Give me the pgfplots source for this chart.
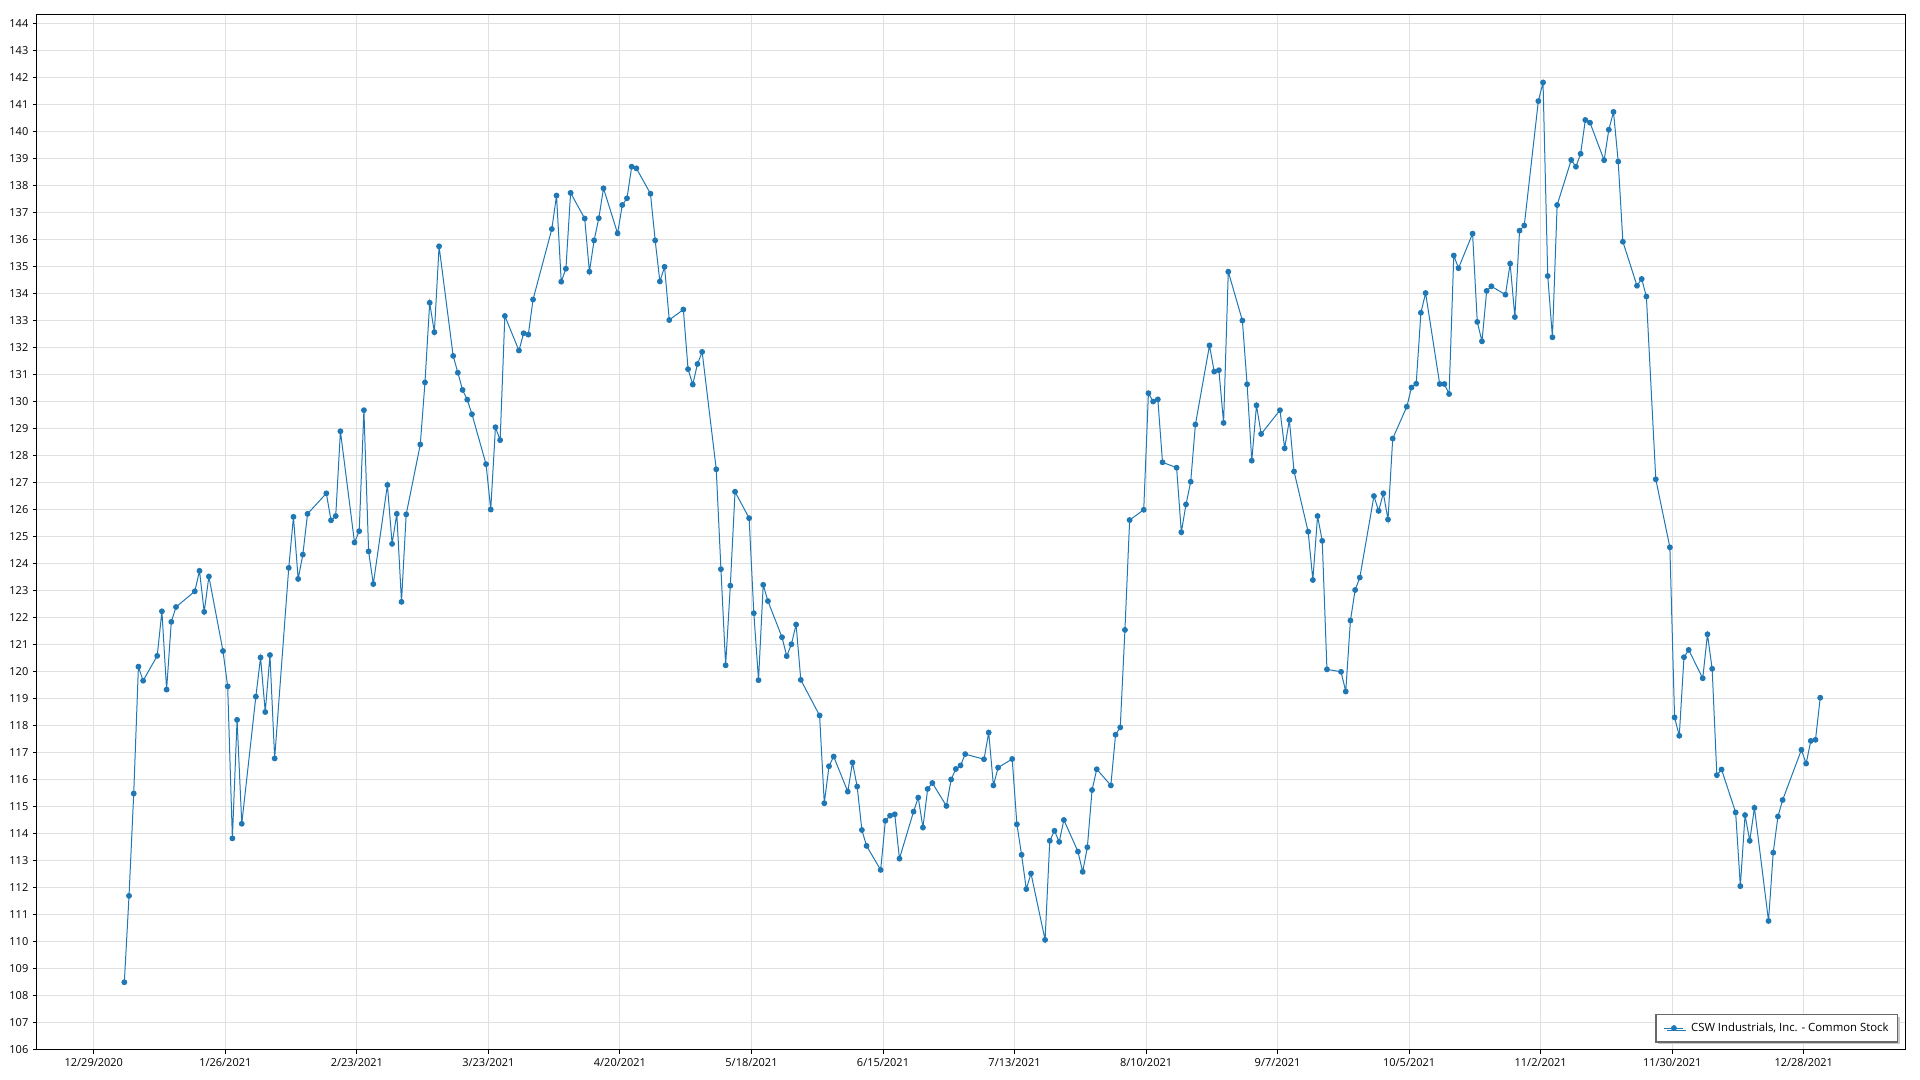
\documentclass[border=0pt]{standalone}
\usepackage{fontspec}
\setmainfont{Open Sans}
\usepackage{pgfplots}
\pgfplotsset{compat=1.18}
\usetikzlibrary{shadows}
\definecolor{series}{RGB}{31,119,180}
\definecolor{gridc}{RGB}{224,224,224}
\definecolor{legbord}{RGB}{105,105,105}
\definecolor{legshadow}{RGB}{200,200,200}
\pgfplotstableread{
d v
6 108.48
7 111.68
8 115.47
9 120.17
10 119.65
13 120.57
14 122.22
15 119.32
16 121.83
17 122.38
21 122.96
22 123.72
23 122.20
24 123.51
27 120.75
28 119.44
29 113.81
30 118.20
31 114.35
34 119.06
35 120.51
36 118.49
37 120.60
38 116.77
41 123.83
42 125.72
43 123.42
44 124.32
45 125.83
49 126.59
50 125.59
51 125.75
52 128.89
55 124.77
56 125.19
57 129.67
58 124.44
59 123.23
62 126.90
63 124.72
64 125.83
65 122.57
66 125.81
69 128.40
70 130.70
71 133.65
72 132.56
73 135.74
76 131.68
77 131.06
78 130.42
79 130.06
80 129.52
83 127.67
84 125.99
85 129.04
86 128.56
87 133.16
90 131.88
91 132.52
92 132.47
93 133.77
97 136.38
98 137.62
99 134.43
100 134.91
101 137.72
104 136.77
105 134.80
106 135.96
107 136.78
108 137.89
111 136.22
112 137.27
113 137.52
114 138.69
115 138.63
118 137.69
119 135.96
120 134.44
121 134.98
122 133.01
125 133.40
126 131.19
127 130.62
128 131.38
129 131.83
132 127.48
133 123.78
134 120.22
135 123.17
136 126.65
139 125.67
140 122.15
141 119.67
142 123.20
143 122.60
146 121.26
147 120.56
148 121.00
149 121.73
150 119.68
154 118.36
155 115.11
156 116.48
157 116.84
160 115.54
161 116.62
162 115.73
163 114.12
164 113.53
167 112.64
168 114.46
169 114.65
170 114.70
171 113.06
174 114.80
175 115.32
176 114.21
177 115.64
178 115.86
181 115.01
182 115.99
183 116.38
184 116.51
185 116.93
189 116.74
190 117.73
191 115.77
192 116.43
195 116.75
196 114.33
197 113.20
198 111.93
199 112.51
202 110.05
203 113.72
204 114.09
205 113.68
206 114.49
209 113.32
210 112.57
211 113.48
212 115.60
213 116.37
216 115.77
217 117.65
218 117.92
219 121.53
220 125.60
223 125.98
224 130.30
225 129.99
226 130.07
227 127.74
230 127.54
231 125.15
232 126.18
233 127.02
234 129.14
237 132.07
238 131.10
239 131.15
240 129.20
241 134.80
244 132.99
245 130.63
246 127.80
247 129.85
248 128.79
252 129.67
253 128.26
254 129.31
255 127.40
258 125.17
259 123.38
260 125.75
261 124.83
262 120.07
265 119.98
266 119.25
267 121.88
268 123.01
269 123.47
272 126.49
273 125.94
274 126.59
275 125.62
276 128.62
279 129.80
280 130.51
281 130.65
282 133.28
283 134.01
286 130.64
287 130.64
288 130.27
289 135.40
290 134.93
293 136.21
294 132.94
295 132.22
296 134.09
297 134.26
300 133.95
301 135.10
302 133.12
303 136.32
304 136.51
307 141.12
308 141.81
309 134.64
310 132.37
311 137.27
314 138.94
315 138.69
316 139.17
317 140.42
318 140.32
321 138.93
322 140.06
323 140.72
324 138.88
325 135.91
328 134.28
329 134.53
330 133.88
332 127.11
335 124.59
336 118.29
337 117.61
338 120.52
339 120.79
342 119.74
343 121.37
344 120.09
345 116.15
346 116.36
349 114.77
350 112.04
351 114.67
352 113.72
353 114.94
356 110.75
357 113.28
358 114.62
359 115.23
363 117.09
364 116.58
365 117.42
366 117.46
367 119.02
}\stock
\begin{document}
\begin{tikzpicture}
\useasboundingbox (-27.75pt,-22.5pt) rectangle (1412.25pt,787.5pt);
\begin{axis}[
  at={(0pt,0pt)}, anchor=south west,
  scale only axis, width=1401pt, height=776.25pt,
  xmin=-12.59, xmax=385.06, ymin=105.97, ymax=144.31,
  xtick={-0.5,27.5,55.5,83.5,111.5,139.5,167.5,195.5,223.5,251.5,279.5,307.5,335.5,363.5},
  xticklabels={12/29/2020,1/26/2021,2/23/2021,3/23/2021,4/20/2021,5/18/2021,6/15/2021,7/13/2021,8/10/2021,9/7/2021,10/5/2021,11/2/2021,11/30/2021,12/28/2021},
  ytick={106,107,...,144},
  /pgf/number format/assume math mode=true,
  /pgf/number format/1000 sep={},
  grid=major,
  major grid style={draw=gridc, line width=0.75pt},
  axis line style={draw=black, line width=0.75pt},
  tick align=outside, tick pos=left, major tick length=3pt,
  tick style={draw=black, line width=0.75pt},
  every tick label/.append style={font=\fontsize{8.25pt}{10pt}\selectfont, text=black},
  legend style={at={(1,0)}, anchor=south east, xshift=-5.5pt, yshift=5.5pt,
    draw=legbord, line width=0.9pt, fill=white,
    drop shadow={shadow xshift=1.8pt, shadow yshift=-1.8pt, fill=legshadow, opacity=1},
    font=\fontsize{8.5pt}{10pt}\selectfont, inner xsep=4.5pt, inner ysep=4.5pt},
  legend cell align=left,
  legend image code/.code={\draw[mark repeat=2,mark phase=2] plot coordinates {(0cm,0cm) (0.25cm,0cm) (0.5cm,0cm)};\path (-0.05cm,0cm) (0.62cm,0cm);},
]
\addplot[series, line width=0.75pt, mark=*, mark size=1.8pt, mark options={fill=series, draw=series, solid}] table[x=d, y=v] {\stock};
\addlegendentry{CSW Industrials, Inc. - Common Stock}
\end{axis}
\end{tikzpicture}
\end{document}
